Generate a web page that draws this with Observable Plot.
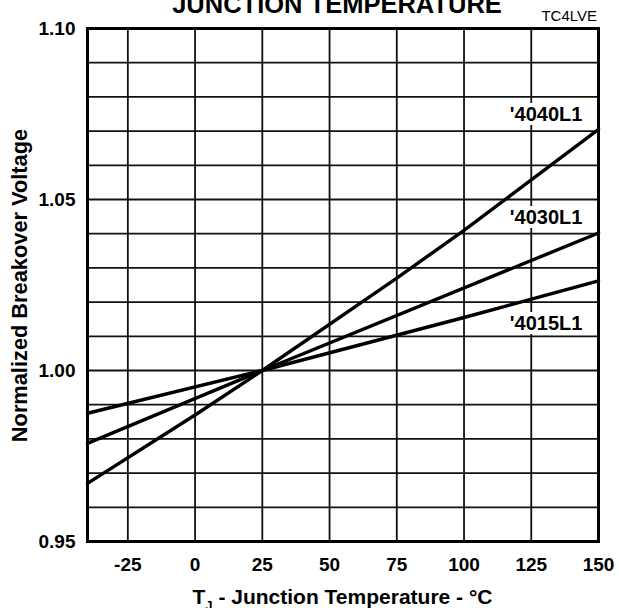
<!DOCTYPE html>
<html><head><meta charset="utf-8">
<script src="https://cdn.jsdelivr.net/npm/d3@7"></script>
<script src="https://cdn.jsdelivr.net/npm/@observablehq/plot@0.6"></script>
<style>html,body{margin:0;padding:0;background:#fff} svg{display:block}</style>
</head><body><div id="chart"></div>
<script>
// ---- data ----
const seriesNames = ["'4040L1", "'4030L1", "'4015L1"];
const temps4040 = [-40, 0, 25, 75, 100, 150];
const volts4040 = [0.967, 0.987, 1.000, 1.027, 1.041, 1.0705];
const temps4030 = [-40, 25, 150];
const volts4030 = [0.9787, 1.000, 1.0402];
const temps4015 = [-40, 25, 100, 150];
const volts4015 = [0.9875, 1.000, 1.0155, 1.0262];
const labelTemps = [144, 144, 144];
const labelVolts = [1.0747, 1.0447, 1.0137];
const xTicks = [-25, 0, 25, 50, 75, 100, 125, 150];
const xGrid = [-25, 0, 25, 50, 75, 100, 125];
const yTicks = [0.95, 1.00, 1.05, 1.10];
const yGrid = [0.96, 0.97, 0.98, 0.99, 1.00, 1.01, 1.02, 1.03, 1.04, 1.05, 1.06, 1.07, 1.08, 1.09];

const rows = [
  ...temps4040.map((t, i) => ({series: seriesNames[0], t, v: volts4040[i]})),
  ...temps4030.map((t, i) => ({series: seriesNames[1], t, v: volts4030[i]})),
  ...temps4015.map((t, i) => ({series: seriesNames[2], t, v: volts4015[i]}))
];
const labels = seriesNames.map((name, i) => ({name, t: labelTemps[i], v: labelVolts[i]}));

const FONT = "'Liberation Sans', Arial, Helvetica, sans-serif";

const chart = Plot.plot({
  width: 619,
  height: 608,
  marginLeft: 87,
  marginRight: 21,
  marginTop: 28,
  marginBottom: 67,
  x: {domain: [-40, 150]},
  y: {domain: [0.95, 1.10]},
  style: {fontFamily: FONT, fontSize: "19px", fontWeight: "bold", background: "white", color: "#000"},
  marks: [
    Plot.ruleX(xGrid, {stroke: "#111", strokeWidth: 1.8}),
    Plot.ruleY(yGrid, {stroke: "#111", strokeWidth: 1.8}),
    Plot.line(rows, {x: "t", y: "v", z: "series", stroke: "#000", strokeWidth: 3.4}),
    Plot.frame({stroke: "#000", strokeWidth: 3}),
    Plot.text(labels, {x: "t", y: "v", text: "name", textAnchor: "end", fontSize: 20, fontWeight: "bold", fill: "#000", stroke: "white", strokeWidth: 8}),
    Plot.axisX({ticks: xTicks, tickSize: 0, tickPadding: 16, label: null, tickFormat: d => String(d)}),
    Plot.axisY({ticks: yTicks, tickSize: 0, tickPadding: 12, label: null, tickFormat: d => d.toFixed(2)})
  ]
});
document.getElementById("chart").appendChild(chart);

const svg = d3.select(chart);
svg.append("text")
  .attr("x", 337).attr("y", 13.3)
  .attr("text-anchor", "middle")
  .attr("font-family", FONT).attr("font-size", 25.5).attr("font-weight", "bold")
  .attr("fill", "#000")
  .text("JUNCTION TEMPERATURE");
svg.append("text")
  .attr("x", 597).attr("y", 21)
  .attr("text-anchor", "end")
  .attr("font-family", FONT).attr("font-size", 15).attr("font-weight", "normal")
  .attr("fill", "#000")
  .text("TC4LVE");
const xl = svg.append("text")
  .attr("x", 342.5).attr("y", 604)
  .attr("text-anchor", "middle")
  .attr("font-family", FONT).attr("font-size", 21).attr("font-weight", "bold")
  .attr("fill", "#000");
xl.append("tspan").text("T");
xl.append("tspan").attr("font-size", 13).attr("dy", 6).text("J");
xl.append("tspan").attr("dy", -6).text(" - Junction Temperature - °C");
svg.append("text")
  .attr("transform", "translate(26.5,285.5) rotate(-90)")
  .attr("text-anchor", "middle")
  .attr("font-family", FONT).attr("font-size", 21.8).attr("font-weight", "bold")
  .attr("fill", "#000")
  .text("Normalized Breakover Voltage");
</script>
</body></html>
